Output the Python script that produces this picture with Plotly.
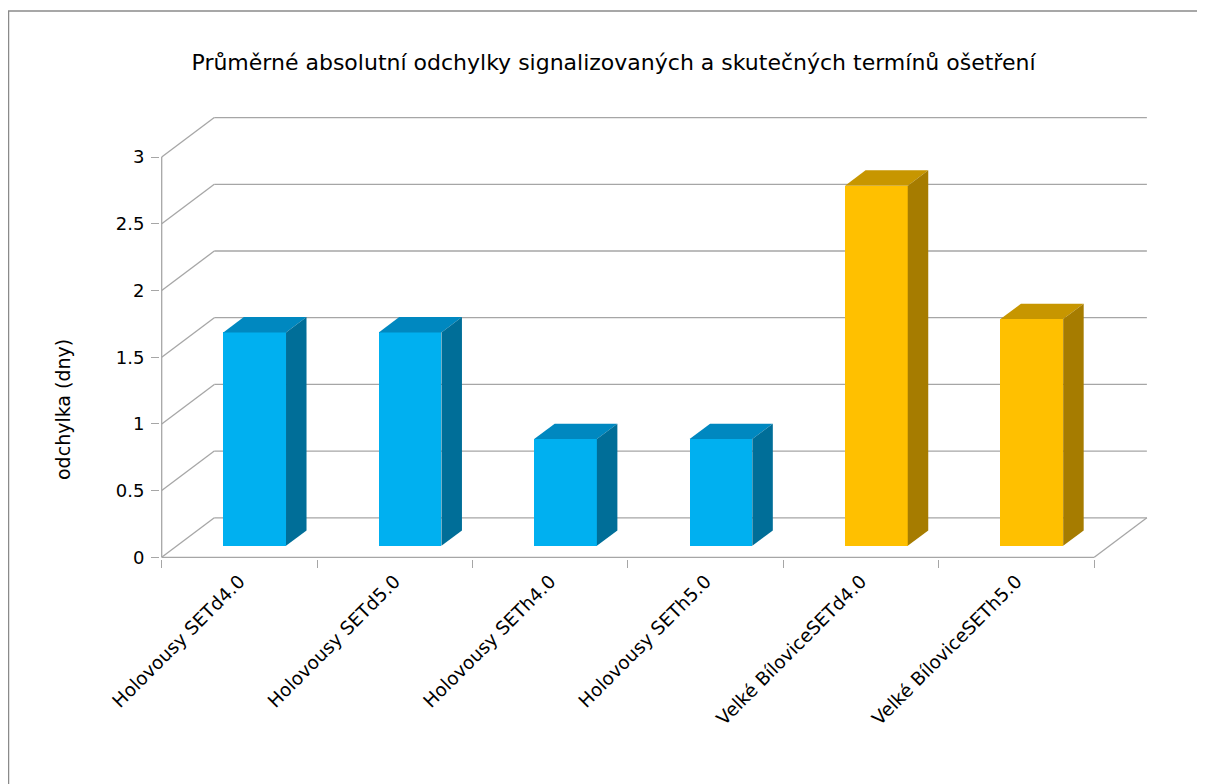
import plotly.graph_objects as go

# ---------------- data ----------------
categories = [
    "Holovousy SETd4.0",
    "Holovousy SETd5.0",
    "Holovousy SETh4.0",
    "Holovousy SETh5.0",
    "Velké BíloviceSETd4.0",
    "Velké BíloviceSETh5.0",
]
values = [1.6, 1.6, 0.8, 0.8, 2.7, 1.7]
sites = ["Holovousy", "Holovousy", "Holovousy", "Holovousy", "Velké Bílovice", "Velké Bílovice"]
y_ticks = [0, 0.5, 1, 1.5, 2, 2.5, 3]
y_tick_labels = ["0", "0.5", "1", "1.5", "2", "2.5", "3"]
title_text = "Průměrné absolutní odchylky signalizovaných a skutečných termínů ošetření"
y_title = "odchylka (dny)"

# ---------------- styles / geometry ----------------
FONT = "DejaVu Sans"
GRID = "#a6a6a6"
colors = {  # front, top, side
    "Holovousy": ("#00b0f0", "#0088c0", "#006e98"),
    "Velké Bílovice": ("#ffc000", "#c79600", "#a67c00"),
}
W, H = 1205, 784
OFF = 8                # page body margin
PX_X = 155.43          # px per category (front plane)
PX_Y = 133.4           # px per unit of value (front plane)
AX_LEFT_PX = 161.7 - OFF     # x of front-left axis (figure coords)
AX_BOTTOM_PX = 557.3 - OFF   # y of front floor edge (figure coords)
L, R = 152, 65
T = 117 - OFF
B = H - 551
plot_w = W - L - R
plot_h = H - T - B
x_start = -0.5 - (AX_LEFT_PX - L) / PX_X
y_start = -((H - B) - AX_BOTTOM_PX) / PX_Y
x_range = [x_start, x_start + plot_w / PX_X]
y_range = [y_start, y_start + plot_h / PX_Y]

DX = 52.6 / PX_X       # depth offset (x units) of back wall
DY = 39.5 / PX_Y       # depth offset (y units) of back wall
D_FRONT, D_BACK = 0.29, 0.68
BAR_W = 62.7 / PX_X

n = len(categories)
x_left_edge = -0.5
x_right_edge = n - 0.5
y_max = y_ticks[-1]

fig = go.Figure()

# front faces (bars)
bar_x = [i + D_FRONT * DX for i in range(n)]
bar_base = D_FRONT * DY
fig.add_trace(go.Bar(
    x=bar_x, y=values, base=bar_base, width=BAR_W,
    marker=dict(color=[colors[s][0] for s in sites], line=dict(width=0)),
    showlegend=False, hoverinfo="skip",
))

# top and side faces
ddx = (D_BACK - D_FRONT) * DX
ddy = (D_BACK - D_FRONT) * DY
for i, (v, s) in enumerate(zip(values, sites)):
    xl = bar_x[i] - BAR_W / 2
    xr = bar_x[i] + BAR_W / 2
    top = bar_base + v
    fig.add_trace(go.Scatter(
        x=[xl, xr, xr + ddx, xl + ddx, xl],
        y=[top, top, top + ddy, top + ddy, top],
        fill="toself", fillcolor=colors[s][1], mode="lines",
        line=dict(width=0, color=colors[s][1]), showlegend=False, hoverinfo="skip",
    ))
    fig.add_trace(go.Scatter(
        x=[xr, xr, xr + ddx, xr + ddx, xr],
        y=[bar_base, top, top + ddy, bar_base + ddy, bar_base],
        fill="toself", fillcolor=colors[s][2], mode="lines",
        line=dict(width=0, color=colors[s][2]), showlegend=False, hoverinfo="skip",
    ))

# walls / gridlines (behind)
shapes = []
line = dict(color=GRID, width=1.3)
for v in y_ticks:
    shapes.append(dict(type="line", xref="x", yref="y", layer="below",
                       x0=x_left_edge + DX, x1=x_right_edge + DX, y0=v + DY, y1=v + DY, line=line))
    shapes.append(dict(type="line", xref="x", yref="y", layer="below",
                       x0=x_left_edge, x1=x_left_edge + DX, y0=v, y1=v + DY, line=line))
shapes.append(dict(type="line", xref="x", yref="y", layer="below",
                   x0=x_left_edge, x1=x_left_edge, y0=0, y1=y_max, line=line))
shapes.append(dict(type="line", xref="x", yref="y", layer="below",
                   x0=x_left_edge, x1=x_right_edge, y0=0, y1=0, line=line))
shapes.append(dict(type="line", xref="x", yref="y", layer="below",
                   x0=x_right_edge, x1=x_right_edge + DX, y0=0, y1=DY, line=line))
# chart border
px2paper_x = lambda px: (px - OFF - L) / plot_w
px2paper_y = lambda py: ((H - B) - (py - OFF)) / plot_h
shapes.append(dict(type="rect", xref="paper", yref="paper", layer="below",
                   x0=px2paper_x(8.5), x1=px2paper_x(1240), y0=px2paper_y(11), y1=px2paper_y(830),
                   line=dict(color="#8a8a8a", width=1.5)))

fig.update_layout(
    width=W, height=H,
    margin=dict(l=L, r=R, t=T, b=B, autoexpand=False),
    paper_bgcolor="white", plot_bgcolor="white",
    font=dict(family=FONT, color="black"),
    bargap=0,
    shapes=shapes,
    title=dict(text=title_text, font=dict(family=FONT, size=22, color="black"),
               xref="container", yref="container", x=(613.5 - OFF) / W, xanchor="center",
               y=1 - (62 - OFF) / H, yanchor="middle"),
    annotations=[dict(text=y_title, xref="paper", yref="paper",
                      x=px2paper_x(63), y=px2paper_y(410), textangle=-90,
                      showarrow=False, xanchor="center", yanchor="middle",
                      font=dict(family=FONT, size=19, color="black"))],
)
fig.update_xaxes(
    range=x_range, tickmode="array", tickvals=list(range(n)), ticktext=categories,
    tickangle=-45, ticks="", showgrid=False, zeroline=False, showline=False,
    ticklabelstandoff=7,
    tickfont=dict(family=FONT, size=18.5, color="black"),
    minor=dict(tickmode="array", tickvals=[i - 0.5 for i in range(n + 1)],
               ticks="outside", ticklen=8, tickcolor=GRID, tickwidth=1.3, showgrid=False),
)
fig.update_yaxes(
    range=y_range, tickmode="array", tickvals=y_ticks, ticktext=y_tick_labels,
    ticks="outside", ticklen=8, tickcolor=GRID, tickwidth=1.3,
    showgrid=False, zeroline=False, showline=False, ticklabelstandoff=3,
    tickfont=dict(family=FONT, size=18, color="black"),
)

fig.write_html("out.html")
